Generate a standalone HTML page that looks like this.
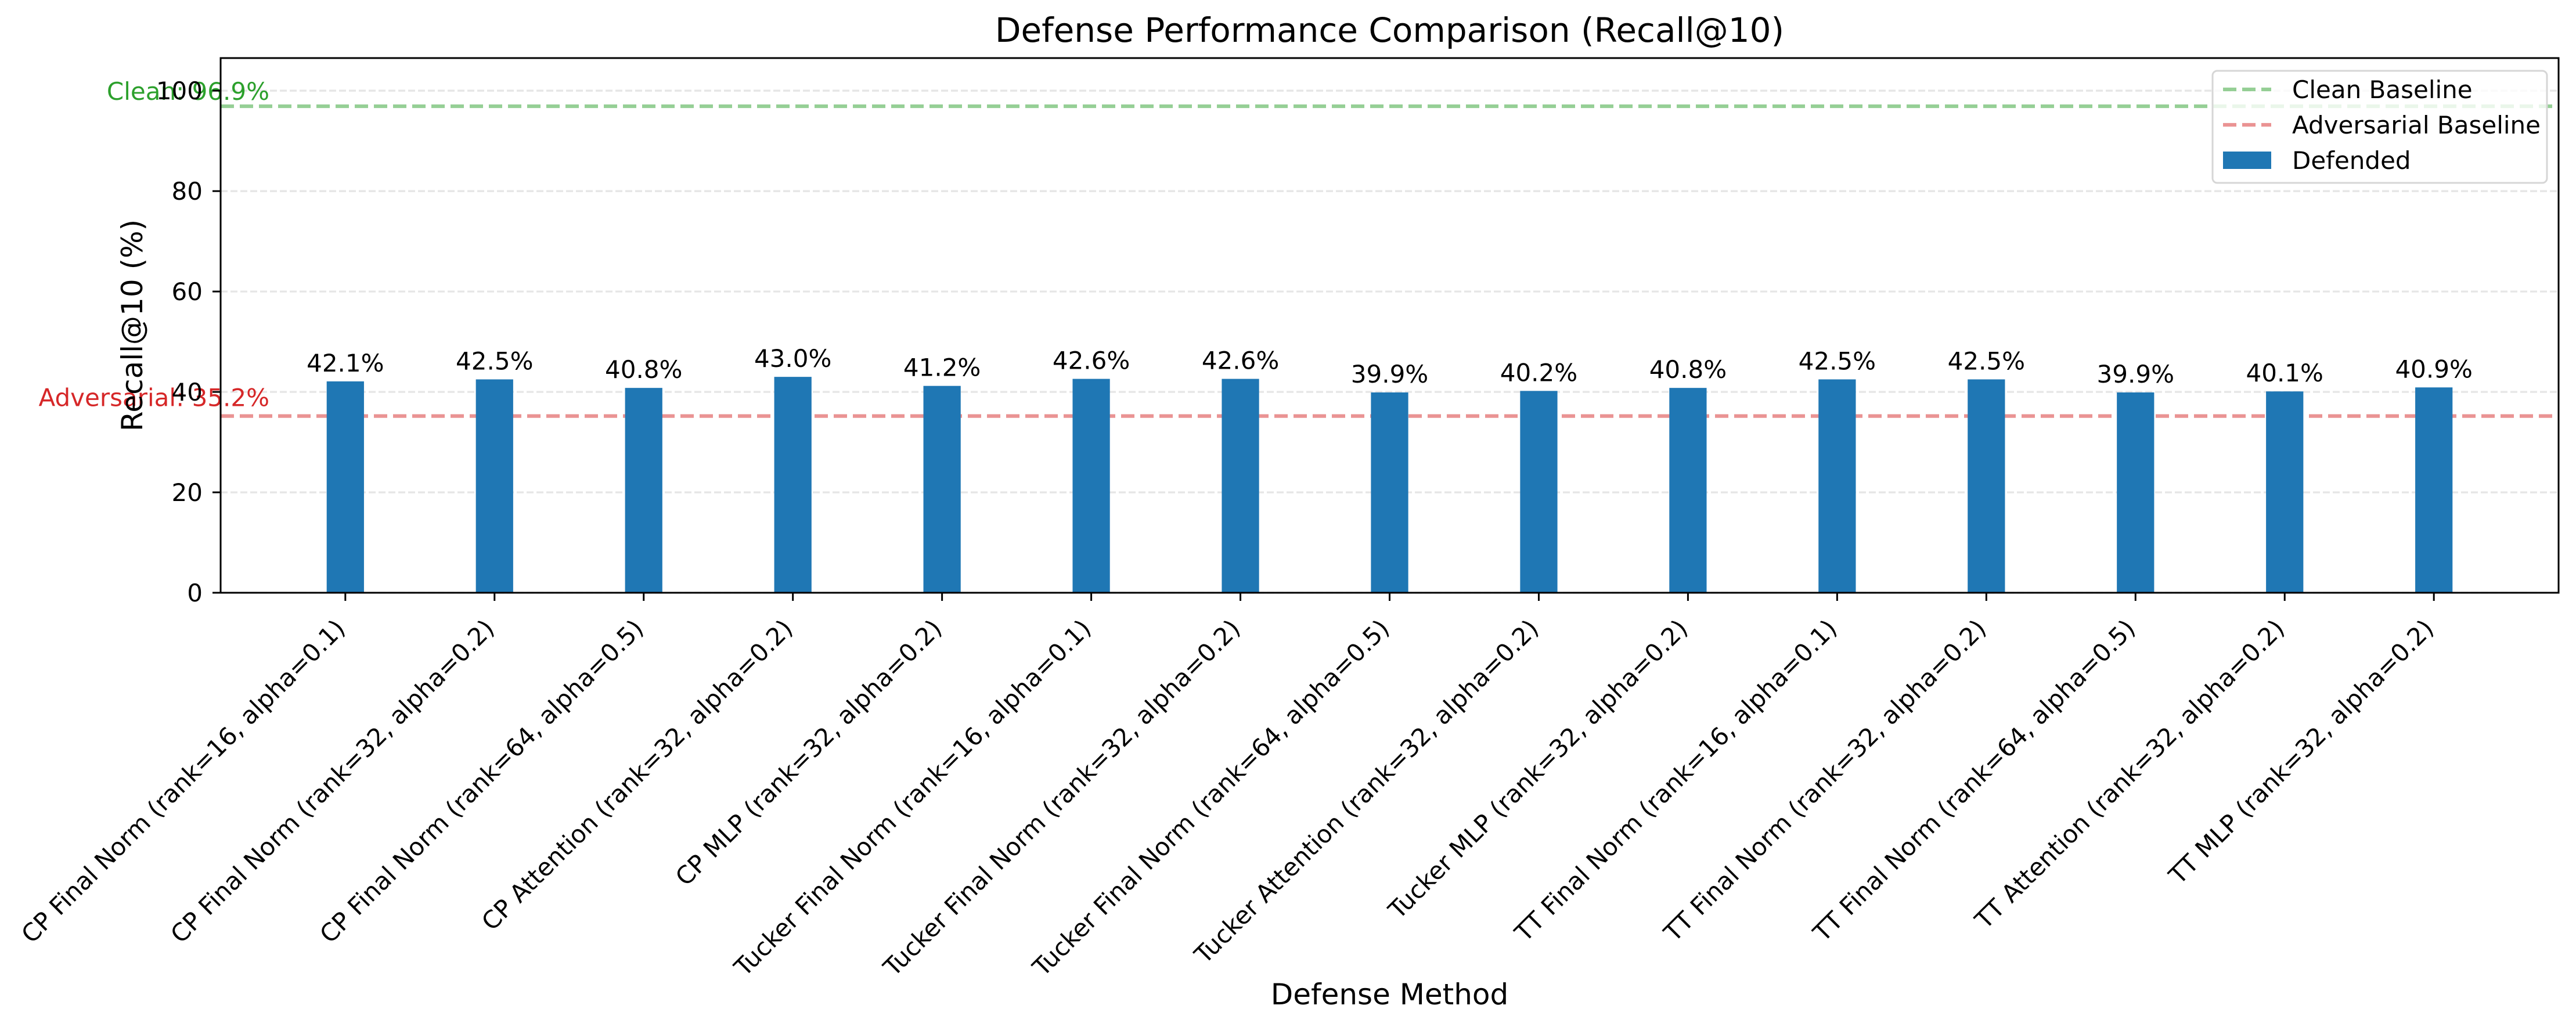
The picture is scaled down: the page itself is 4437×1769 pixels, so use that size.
<!DOCTYPE html>
<html><head><meta charset="utf-8"><style>
html,body{margin:0;padding:0;background:#fff;}
svg{display:block;font-family:"DejaVu Sans","Liberation Sans",sans-serif;}
</style></head><body>
<svg id="chart" width="4437" height="1769" viewBox="0 0 4437 1769" xmlns="http://www.w3.org/2000/svg">
<rect width="4437" height="1769" fill="#fff"/>
<g id="grid"></g><g id="lines"></g><g id="bars"></g><g id="axes"></g>
</svg>
<script>
const categories = ["CP Final Norm (rank=16, alpha=0.1)","CP Final Norm (rank=32, alpha=0.2)","CP Final Norm (rank=64, alpha=0.5)","CP Attention (rank=32, alpha=0.2)","CP MLP (rank=32, alpha=0.2)","Tucker Final Norm (rank=16, alpha=0.1)","Tucker Final Norm (rank=32, alpha=0.2)","Tucker Final Norm (rank=64, alpha=0.5)","Tucker Attention (rank=32, alpha=0.2)","Tucker MLP (rank=32, alpha=0.2)","TT Final Norm (rank=16, alpha=0.1)","TT Final Norm (rank=32, alpha=0.2)","TT Final Norm (rank=64, alpha=0.5)","TT Attention (rank=32, alpha=0.2)","TT MLP (rank=32, alpha=0.2)"];
const defended = [42.1,42.5,40.8,43.0,41.2,42.6,42.6,39.9,40.2,40.8,42.5,42.5,39.9,40.1,40.9];
const cleanBaseline = 96.9;
const adversarialBaseline = 35.2;
const yTicks = [0,20,40,60,80,100];
const yMax = 106.5;

const NS="http://www.w3.org/2000/svg";
const L=380,R=4407,T=100,B=1021;
const n=categories.length;
const xMin=-0.836,xMax=n-1+0.836;
const xs=i=>L+(i-xMin)/(xMax-xMin)*(R-L);
const ys=v=>B-v/yMax*(B-T);
const barW=0.25*(xs(1)-xs(0));
function mk(tag,attrs,parent,text){const e=document.createElementNS(NS,tag);for(const k in attrs)e.setAttribute(k,attrs[k]);if(text!==undefined)e.textContent=text;parent.appendChild(e);return e;}
const svg=document.getElementById('chart');
const gGrid=document.getElementById('grid'),gLines=document.getElementById('lines'),gBars=document.getElementById('bars'),gAxes=document.getElementById('axes');

yTicks.forEach(t=>{
  const g=mk('line',{x1:L,x2:R,y1:ys(t),y2:ys(t),stroke:'#e6e6e6','stroke-width':3.3,'stroke-dasharray':'12 5'},gGrid);
  
  
});

const cl=mk('line',{x1:L,x2:R,y1:ys(cleanBaseline),y2:ys(cleanBaseline),stroke:'#2ca02c','stroke-opacity':0.5,'stroke-width':6.25,'stroke-dasharray':'23 10'},gLines);


const al=mk('line',{x1:L,x2:R,y1:ys(adversarialBaseline),y2:ys(adversarialBaseline),stroke:'#d62728','stroke-opacity':0.5,'stroke-width':6.25,'stroke-dasharray':'23 10'},gLines);


const ct=mk('text',{x:464,y:ys(cleanBaseline)-11,'text-anchor':'end','font-size':42,fill:'#2ca02c'},gLines,'Clean: '+cleanBaseline.toFixed(1)+'%');


const at=mk('text',{x:464,y:ys(adversarialBaseline)-17,'text-anchor':'end','font-size':42,fill:'#d62728'},gLines,'Adversarial: '+adversarialBaseline.toFixed(1)+'%');



defended.forEach((v,i)=>{
  const x=xs(i);
  const r=mk('rect',{x:x-barW/2,y:ys(v),width:barW,height:B-ys(v),fill:'#1f77b4'},gBars);
  
  
  const t=mk('text',{x:x,y:ys(v)-17,'text-anchor':'middle','font-size':42,fill:'#000'},gBars,v.toFixed(1)+'%');
  
  
  const tk=mk('line',{x1:x,x2:x,y1:B,y2:B+14,stroke:'#000','stroke-width':3},gAxes);
  
  
  const lx=x+2,ly=1085;
  const lb=mk('text',{x:lx,y:ly,'text-anchor':'end','font-size':42,fill:'#000',transform:`rotate(-45 ${lx} ${ly})`},gAxes,categories[i]);
  
  
});

yTicks.forEach(t=>{
  const tk=mk('line',{x1:L-14,x2:L,y1:ys(t),y2:ys(t),stroke:'#000','stroke-width':3},gAxes);
  
  
  const lb=mk('text',{x:349,y:ys(t)+15,'text-anchor':'end','font-size':42,fill:'#000'},gAxes,String(t));
  
  
});

const fr=mk('rect',{x:L,y:T,width:R-L,height:B-T,fill:'none',stroke:'#000','stroke-width':3},gAxes);



const title=mk('text',{x:(L+R)/2,y:72,'text-anchor':'middle','font-size':58,fill:'#000'},gAxes,'Defense Performance Comparison (Recall@10)');


const xl=mk('text',{x:(L+R)/2,y:1730,'text-anchor':'middle','font-size':50,fill:'#000'},gAxes,'Defense Method');


const yl=mk('text',{x:245,y:(T+B)/2,'text-anchor':'middle','font-size':50,fill:'#000',transform:`rotate(-90 245 ${(T+B)/2})`},gAxes,'Recall@10 (%)');



const lg=mk('g',{},gAxes);


mk('rect',{x:3811,y:122,width:576,height:193,rx:8,fill:'#fff','fill-opacity':0.8,stroke:'#d6d6d6','stroke-width':3},lg);
const items=[['Clean Baseline','#2ca02c','line'],['Adversarial Baseline','#d62728','line'],['Defended','#1f77b4','bar']];
items.forEach((it,k)=>{
  const y=154+k*61;
  const e=mk('g',{},lg);
  
  
  if(it[2]==='line') mk('line',{x1:3829,x2:3912,y1:y,y2:y,stroke:it[1],'stroke-opacity':0.5,'stroke-width':6.25,'stroke-dasharray':'23 10'},e);
  else mk('rect',{x:3829,y:y-15,width:83,height:30,fill:it[1]},e);
  mk('text',{x:3948,y:y+15,'font-size':42,fill:'#000'},e,it[0]);
});
</script>
</body></html>
